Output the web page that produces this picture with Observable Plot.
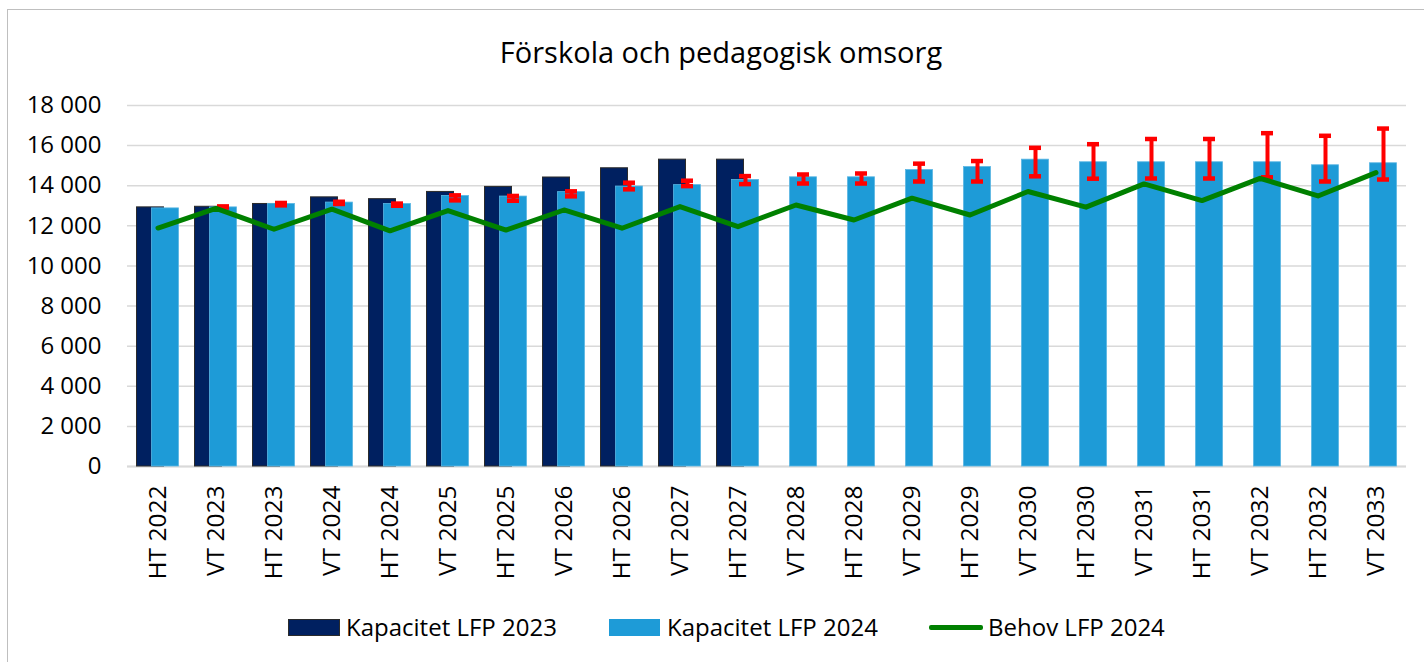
<!DOCTYPE html>
<html>
<head>
<meta charset="utf-8">
<script src="https://cdn.jsdelivr.net/npm/d3@7"></script>
<script src="https://cdn.jsdelivr.net/npm/@observablehq/plot@0.6"></script>
<style>
  html, body { margin: 0; padding: 0; width: 1424px; height: 662px; overflow: hidden; background: #fff; font-family: "Open Sans", sans-serif; color: #000; }
  #frame { position: absolute; left: 7px; top: 9px; width: 1440px; height: 700px; border: 1px solid #bfbfbf; box-sizing: border-box; }
  #title { position: absolute; left: 0; width: 1442px; top: 32px; text-align: center; font-size: 29px; white-space: nowrap; }
  #chart { position: absolute; left: 0; top: 85px; }
  .sw { position: absolute; box-sizing: border-box; }
  .lt { position: absolute; font-size: 24px; white-space: nowrap; line-height: 1; }
</style>
</head>
<body>
<div id="frame"></div>
<div id="title">Förskola och pedagogisk omsorg</div>
<div id="chart"></div>
<div id="legend"></div>
<script>
// ---- data ----
const categories = ["HT 2022","VT 2023","HT 2023","VT 2024","HT 2024","VT 2025","HT 2025","VT 2026","HT 2026","VT 2027","HT 2027","VT 2028","HT 2028","VT 2029","HT 2029","VT 2030","HT 2030","VT 2031","HT 2031","VT 2032","HT 2032","VT 2033"];
const kapacitet2023 = [12920, 12950, 13090, 13420, 13330, 13690, 13940, 14410, 14870, 15300, 15300];
const kapacitet2024 = [12870, 12920, 13090, 13160, 13090, 13490, 13460, 13680, 13960, 14030, 14290, 14420, 14420, 14780, 14930, 15300, 15170, 15170, 15170, 15170, 15020, 15120];
const behov2024 = [11890, 12870, 11830, 12830, 11750, 12760, 11790, 12790, 11880, 12960, 11960, 13040, 12290, 13380, 12540, 13710, 12930, 14090, 13260, 14370, 13490, 14650];
const felLag = [null, 12910, 13020, 13090, 13000, 13270, 13250, 13470, 13820, 13980, 14080, 14110, 14110, 14210, 14210, 14470, 14350, 14360, 14360, 14420, 14210, 14310];
const felHog = [null, 12970, 13140, 13200, 13110, 13520, 13490, 13720, 14150, 14250, 14480, 14560, 14610, 15100, 15230, 15890, 16070, 16330, 16330, 16620, 16490, 16850];
const yTicks = [0, 2000, 4000, 6000, 8000, 10000, 12000, 14000, 16000, 18000];
const seriesNames = ["Kapacitet LFP 2023", "Kapacitet LFP 2024", "Behov LFP 2024"];
const colors = ["#002060", "#1e9bd7", "#008000"];

// ---- table ----
const rows = categories.map((c, i) => ({
  c,
  k23: i < kapacitet2023.length ? kapacitet2023[i] : null,
  k24: kapacitet2024[i],
  behov: behov2024[i],
  lo: felLag[i],
  hi: felHog[i]
}));
const rows23 = rows.filter(d => d.k23 != null);
const rowsErr = rows.filter(d => d.lo != null);

const fmt = d3.formatLocale({decimal: ",", thousands: "\u00a0", grouping: [3], currency: ["", ""]}).format(",d");

const chart = Plot.plot({
  width: 1424,
  height: 510,
  marginLeft: 127,
  marginRight: 18,
  marginTop: 20,
  marginBottom: 129,
  style: {fontFamily: '"Open Sans", sans-serif', fontSize: "24px", color: "#000", background: "transparent"},
  x: {type: "band", domain: categories, paddingInner: 0.535, paddingOuter: 0.2675, label: null},
  y: {domain: [0, 18000], label: null},
  marks: [
    Plot.gridY(yTicks, {stroke: "#d9d9d9", strokeOpacity: 1, strokeWidth: 1.5}),
    Plot.ruleY([0], {stroke: "#d9d9d9", strokeWidth: 2}),
    Plot.barY(rows23, {x: "c", y: "k23", fill: colors[0], stroke: "#2b2b2b", strokeWidth: 1, dx: -7.5}),
    Plot.barY(rows, {x: "c", y: "k24", fill: colors[1], stroke: "#5ab6e3", strokeWidth: 0.8, dx: 7.5}),
    Plot.ruleX(rowsErr, {x: "c", y1: "lo", y2: "hi", stroke: "#ff0000", strokeWidth: 4, dx: 7.5}),
    Plot.tickY(rowsErr, {x: "c", y: "lo", stroke: "#ff0000", strokeWidth: 4.5, dx: 7.5, insetLeft: 7.5, insetRight: 7.5}),
    Plot.tickY(rowsErr, {x: "c", y: "hi", stroke: "#ff0000", strokeWidth: 4.5, dx: 7.5, insetLeft: 7.5, insetRight: 7.5}),
    Plot.lineY(rows, {x: "c", y: "behov", stroke: colors[2], strokeWidth: 5, strokeLinejoin: "round"}),
    Plot.axisY(yTicks, {tickSize: 0, tickPadding: 26, tickFormat: fmt, fontSize: 24, label: null}),
    Plot.axisX({tickSize: 0, tickPadding: 19, tickRotate: -90, fontSize: 24.5, label: null})
  ]
});
document.getElementById("chart").appendChild(chart);

// ---- legend ----
const legend = document.getElementById("legend");
const items = [
  {sw: {left: 288, top: 619, width: 52, height: 17, background: colors[0], border: "1px solid #2b2b2b"}, tx: 346},
  {sw: {left: 609, top: 619, width: 51, height: 17, background: colors[1]}, tx: 667},
  {sw: {left: 929, top: 625, width: 54, height: 5, background: colors[2], borderRadius: "2px"}, tx: 988}
];
items.forEach((it, i) => {
  const s = document.createElement("div");
  s.className = "sw";
  Object.entries(it.sw).forEach(([k, v]) => s.style[k] = typeof v === "number" ? v + "px" : v);
  legend.appendChild(s);
  const t = document.createElement("div");
  t.className = "lt";
  t.textContent = seriesNames[i];
  t.style.left = it.tx + "px";
  t.style.top = "615px";
  legend.appendChild(t);
});
</script>
</body>
</html>
